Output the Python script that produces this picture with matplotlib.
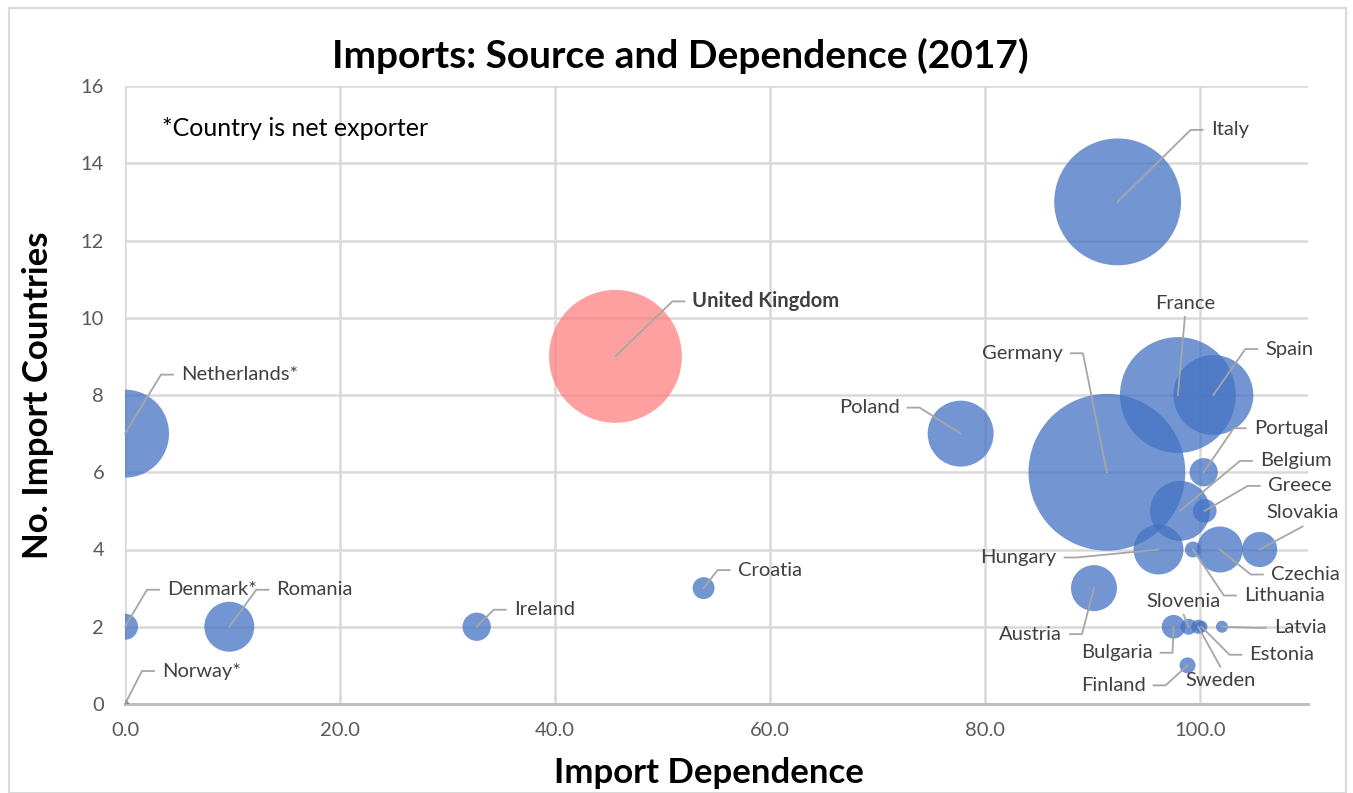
import matplotlib.pyplot as plt
from matplotlib.patches import Rectangle

countries = ["Netherlands*", "Denmark*", "Norway*", "Romania", "Ireland", "Croatia",
             "United Kingdom", "Italy", "Poland", "Germany", "France", "Spain",
             "Portugal", "Belgium", "Greece", "Slovakia", "Czechia", "Hungary",
             "Lithuania", "Austria", "Bulgaria", "Slovenia", "Sweden", "Estonia",
             "Latvia", "Finland"]
dependence = [0.0, 0.0, 0.0, 9.7, 32.7, 53.8,
              45.6, 92.3, 77.7, 91.3, 97.9, 101.2,
              100.3, 98.1, 100.4, 105.5, 101.8, 96.1,
              99.3, 90.1, 97.5, 98.9, 99.8, 100.1,
              102.0, 98.8]
n_countries = [7, 2, 0, 2, 2, 3,
               9, 13, 7, 6, 8, 8,
               6, 5, 5, 4, 4, 4,
               4, 3, 2, 2, 2, 2,
               2, 1]
# bubble size value (area-proportional)
volume = [19.4, 1.7, 0.16, 6.25, 2.0, 1.2,
          44.2, 40.3, 10.9, 61.6, 33.6, 16.0,
          2.0, 9.0, 1.4, 3.1, 5.3, 6.25,
          0.64, 5.3, 1.4, 0.64, 0.5, 0.36,
          0.36, 0.64]

# label placement: (ha, dx px, dy px) offsets of the text anchor from the bubble centre (screen y down)
label_pos = {
    "Netherlands*": ("left", 56, -59), "Denmark*": ("left", 42, -37), "Norway*": ("left", 37, -33),
    "Romania": ("left", 47, -37), "Ireland": ("left", 37, -17), "Croatia": ("left", 34, -18),
    "United Kingdom": ("left", 77, -55), "Italy": ("left", 93, -72), "Poland": ("right", -61, -26),
    "Germany": ("right", -44, -119), "France": ("above", 7, -83), "Spain": ("left", 52, -46),
    "Portugal": ("left", 50, -44), "Belgium": ("left", 80, -50), "Greece": ("left", 63, -25),
    "Slovakia": ("above", 43, -28), "Czechia": ("left", 51, 25), "Hungary": ("right", -102, 8),
    "Lithuania": ("left", 51, 46), "Austria": ("right", -32, 46), "Bulgaria": ("right", -21, 26),
    "Slovenia": ("above", -5, -17), "Sweden": ("below", 22, 45), "Estonia": ("left", 48, 28),
    "Latvia": ("left", 52, 1), "Finland": ("right", -42, 20),
}

plt.rcParams["font.family"] = ["Lato", "DejaVu Sans"]

W, H = 1353, 793
fig = plt.figure(figsize=(W / 100, H / 100), dpi=100)
ax = fig.add_axes([125 / W, 1 - 704 / H, (1308 - 125) / W, (704 - 86) / H])

fig.patches.append(Rectangle((9 / W, 0), 1337 / W, 1 - 8 / H, transform=fig.transFigure,
                             fill=False, edgecolor="#D9D9D9", linewidth=1.5, zorder=0))

colors = ["#FF8080" if c == "United Kingdom" else "#4473C4" for c in countries]
sizes = [207 * v for v in volume]
ax.scatter(dependence, n_countries, s=sizes, c=colors, alpha=0.75, linewidths=0, zorder=3)

ax.set_xlim(0, 110)
ax.set_ylim(0, 16)
ax.set_xticks(range(0, 101, 20))
ax.set_xticklabels([f"{v:.1f}" for v in range(0, 101, 20)])
ax.set_yticks(range(0, 17, 2))
ax.grid(True, color="#D9D9D9", linewidth=1.8, zorder=0)
ax.set_axisbelow(True)
for s in ["top", "right", "left"]:
    ax.spines[s].set_visible(False)
ax.spines["bottom"].set_color("#BFBFBF")
ax.spines["bottom"].set_linewidth(2.2)
ax.tick_params(length=0, labelsize=14.5, labelcolor="#595959")
ax.tick_params(axis="x", pad=13)
ax.tick_params(axis="y", pad=15)

fig.text(709 / W, 1 - 773 / H, "Import Dependence", ha="center", va="center", fontsize=25, fontweight="bold")
fig.text(38 / W, 1 - 395 / H, "No. Import Countries", ha="center", va="center", rotation=90,
         fontsize=25, fontweight="bold")
fig.text(680 / W, 1 - 56 / H, "Imports: Source and Dependence (2017)", ha="center", va="center",
         fontsize=28, fontweight="bold")
fig.text(162 / W, 1 - 128 / H, "*Country is net exporter", fontsize=18, va="center", ha="left")

# labels and leader lines placed in display pixels (dpi 100 == savefig dpi)
inv = ax.transData.inverted()
for name, x, y in zip(countries, dependence, n_countries):
    ha, dx, dy = label_pos[name]
    cx, cy = ax.transData.transform((x, y))
    tx, ty = cx + dx, cy - dy
    weight = "bold" if name == "United Kingdom" else "normal"
    kw = dict(transform=None, fontsize=14.5, color="#404040", fontweight=weight)
    if ha == "left":
        pts = [(cx, cy), (tx - 20, ty), (tx - 8, ty)]
        ax.text(tx, ty, name, ha="left", va="center", **kw)
    elif ha == "right":
        pts = [(cx, cy), (tx + 20, ty), (tx + 8, ty)]
        ax.text(tx, ty, name, ha="right", va="center", **kw)
    elif ha == "above":
        pts = [(cx, cy), (tx, ty - 5)]
        ax.text(tx, ty, name, ha="center", va="bottom", **kw)
    else:
        pts = [(cx, cy), (tx, ty + 5)]
        ax.text(tx, ty, name, ha="center", va="top", **kw)
    data_pts = inv.transform(pts)
    ax.plot(data_pts[:, 0], data_pts[:, 1], color="#A6A6A6", linewidth=1.3, zorder=4, clip_on=False)

fig.savefig("out.png", dpi=100)
